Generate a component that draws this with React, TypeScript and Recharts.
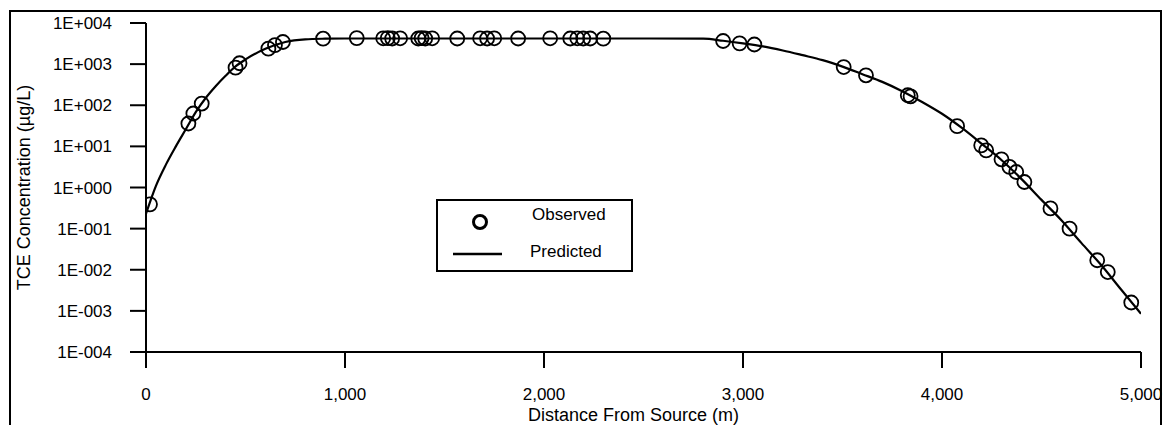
import { ComposedChart, Line, Scatter, XAxis, YAxis, Legend } from "recharts";

// observed samples (distance m, TCE ug/L)
const obsDistance = [
  20, 213, 238, 280, 450, 470, 615, 648, 688, 890, 1059, 1192, 1215, 1237,
  1277, 1368, 1385, 1403, 1438, 1564, 1679, 1714, 1750, 1870, 2031, 2132,
  2167, 2197, 2232, 2298, 2900, 2983, 3057, 3506, 3618, 3828, 3842, 4076,
  4197, 4222, 4299, 4339, 4373, 4414, 4545, 4641, 4780, 4833, 4951,
];
const obsConc = [
  0.39, 36, 63, 110, 820, 1050, 2380, 2900, 3450, 4150, 4300, 4250, 4300,
  4200, 4250, 4200, 4300, 4200, 4250, 4200, 4250, 4200, 4250, 4200, 4250,
  4200, 4250, 4200, 4200, 4150, 3650, 3200, 3000, 850, 535, 175, 165, 31,
  10.6, 8.0, 4.85, 3.16, 2.38, 1.36, 0.31, 0.1, 0.017, 0.0088, 0.0016,
];

// model curve
const predDistance = [
  0, 50, 100, 150, 200, 250, 300, 350, 400, 450, 500, 600, 700, 800, 900,
  1000, 1500, 2000, 2500, 2800, 2900, 3000, 3100, 3200, 3300, 3400, 3500,
  3600, 3700, 3800, 3900, 4000, 4100, 4200, 4300, 4400, 4500, 4600, 4700,
  4800, 4900, 5000,
];
const predConc = [
  0.23, 1.1, 3.6, 10, 26, 68, 150, 290, 520, 880, 1300, 2350, 3450, 4000,
  4150, 4200, 4200, 4200, 4200, 4150, 3700, 3200, 2700, 2150, 1650, 1250,
  870, 570, 370, 220, 120, 62, 28, 11.5, 4.6, 1.6, 0.5, 0.16, 0.045, 0.013,
  0.0033, 0.00085,
];

const xTicks = [0, 1000, 2000, 3000, 4000, 5000];
const yTicks = [1e-4, 1e-3, 1e-2, 1e-1, 1, 10, 100, 1000, 1e4];

const observed = obsDistance.map((x, i) => ({ x, y: obsConc[i] }));
const predicted = predDistance.map((x, i) => ({ x, y: predConc[i] }));

const font = '"Liberation Sans", Arial, sans-serif';

function sci(v: number) {
  const e = Math.round(Math.log10(v));
  return "1E" + (e < 0 ? "-" : "+") + String(Math.abs(e)).padStart(3, "0");
}

function Ring(props: any) {
  return (
    <circle cx={props.cx} cy={props.cy} r={7} fill="none" stroke="#000" strokeWidth={1.8} />
  );
}

function LegendBox() {
  return (
    <div
      style={{
        width: 197,
        height: 73,
        border: "2px solid #000",
        boxSizing: "border-box",
        position: "relative",
        background: "#fff",
        fontFamily: font,
        fontSize: 17,
        color: "#000",
      }}
    >
      <svg width={80} height={70} style={{ position: "absolute", left: 0, top: 0 }}>
        <circle cx={42} cy={21} r={6.5} fill="none" stroke="#000" strokeWidth={3} />
        <line x1={15} x2={64} y1={53} y2={53} stroke="#000" strokeWidth={2.5} />
      </svg>
      <span style={{ position: "absolute", left: 94, top: 4, whiteSpace: "nowrap" }}>Observed</span>
      <span style={{ position: "absolute", left: 92, top: 41, whiteSpace: "nowrap" }}>Predicted</span>
    </div>
  );
}

export default function App() {
  return (
    <div style={{ position: "absolute", left: 0, top: 0, width: 1164, height: 425, background: "#fff" }}>
      <div
        style={{
          position: "absolute",
          left: 9,
          top: 10,
          width: 1153,
          height: 430,
          borderLeft: "2px solid #000",
          borderTop: "2px solid #000",
          borderRight: "2px solid #000",
          boxSizing: "border-box",
        }}
      />
      <div style={{ position: "absolute", left: 0, top: 0 }}>
        <ComposedChart width={1164} height={425} margin={{ top: 23, right: 23, bottom: 0, left: 0 }}>
          <XAxis
            type="number"
            dataKey="x"
            domain={[0, 5000]}
            ticks={xTicks}
            interval={0}
            allowDataOverflow
            tickFormatter={(v: number) => v.toLocaleString("en-US")}
            height={73}
            tickSize={16}
            tickMargin={20}
            stroke="#000"
            strokeWidth={2}
            tick={{ fill: "#000", fontSize: 17, fontFamily: font }}
            label={{
              value: "Distance From Source (m)",
              position: "insideBottom",
              offset: 4,
              dx: -10,
              style: { fill: "#000", fontSize: 18, fontFamily: font },
            }}
          />
          <YAxis
            type="number"
            dataKey="y"
            scale="log"
            domain={[1e-4, 1e4]}
            ticks={yTicks}
            interval={0}
            allowDataOverflow
            tickFormatter={sci}
            width={146}
            tickSize={16}
            tickMargin={18}
            stroke="#000"
            strokeWidth={2}
            tick={{ fill: "#000", fontSize: 17, fontFamily: font }}
            label={{
              value: "TCE Concentration (µg/L)",
              angle: -90,
              position: "insideLeft",
              offset: 24,
              style: { fill: "#000", fontSize: 18, fontFamily: font, textAnchor: "middle" },
            }}
          />
          <Legend
            layout="horizontal"
            verticalAlign="middle"
            align="center"
            content={() => <LegendBox />}
            wrapperStyle={{ left: 436, top: 199, width: 197, height: 73 }}
          />
          <Line
            data={predicted}
            dataKey="y"
            type="monotone"
            stroke="#000"
            strokeWidth={2.2}
            dot={false}
            activeDot={false}
            isAnimationActive={false}
          />
          <Scatter data={observed} dataKey="y" shape={<Ring />} isAnimationActive={false} />
        </ComposedChart>
      </div>
    </div>
  );
}
